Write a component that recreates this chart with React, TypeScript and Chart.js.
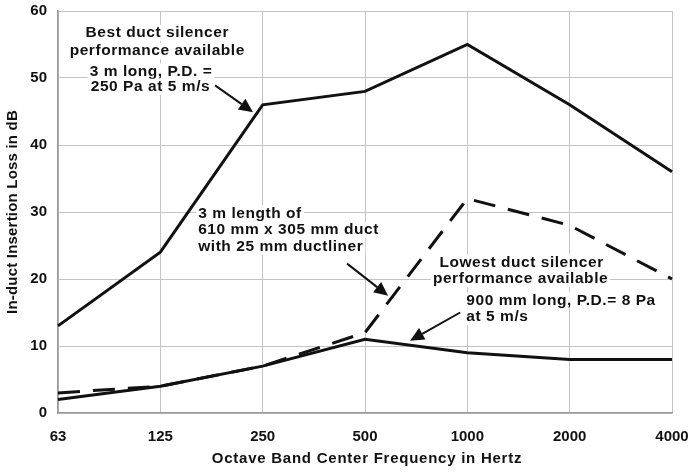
import React, { useEffect, useRef } from "react";
import { Chart, registerables } from "chart.js";

Chart.register(...registerables);

const categories = ["63", "125", "250", "500", "1000", "2000", "4000"];
const bestSilencer = [13, 24, 46, 48, 55, 46, 36];
const ductLiner = [3, 4, 7, 12, 32, 28, 20];
const lowestSilencer = [2, 4, 7, 11, 9, 8, 8];
const yMin = 0;
const yMax = 60;
const yStep = 10;

const xTitle = "Octave Band Center Frequency in Hertz";
const yTitle = "In-duct Insertion Loss in dB";

// annotation text blocks: anchor in data coords (category index, dB)
const noteBest = ["Best duct silencer", "performance available", "3 m long, P.D. =", "250 Pa at 5 m/s"];
const noteLiner = ["3 m length of", "610 mm x 305 mm duct", "with 25 mm ductliner"];
const noteLowest = ["Lowest duct silencer", "performance available", "900 mm long, P.D.= 8 Pa", "at 5 m/s"];

type Line = { text: string; x: number; y: number; align: CanvasTextAlign };
const textLines: Line[] = [
  { text: noteBest[0], x: 0.97, y: 56.7, align: "center" },
  { text: noteBest[1], x: 0.97, y: 54.0, align: "center" },
  { text: noteBest[2], x: 0.31, y: 51.0, align: "left" },
  { text: noteBest[3], x: 0.32, y: 48.7, align: "left" },
  { text: noteLiner[0], x: 1.37, y: 29.8, align: "left" },
  { text: noteLiner[1], x: 1.37, y: 27.3, align: "left" },
  { text: noteLiner[2], x: 1.37, y: 24.8, align: "left" },
  { text: noteLowest[0], x: 4.53, y: 22.5, align: "center" },
  { text: noteLowest[1], x: 4.52, y: 20.0, align: "center" },
  { text: noteLowest[2], x: 3.99, y: 16.8, align: "left" },
  { text: noteLowest[3], x: 3.99, y: 14.3, align: "left" },
];

const arrows = [
  { x1: 1.535, y1: 48.9, x2: 1.906, y2: 44.9 },
  { x1: 2.825, y1: 22.3, x2: 3.226, y2: 17.5 },
  { x1: 3.93, y1: 15.0, x2: 3.44, y2: 10.8 },
];

const FONT = "'Liberation Sans', Arial, sans-serif";

const annotationPlugin = {
  id: "annotations",
  afterDatasetsDraw(chart: any) {
    const ctx = chart.ctx as CanvasRenderingContext2D;
    const xs = chart.scales.x;
    const ys = chart.scales.y;
    const area = chart.chartArea;
    ctx.save();
    ctx.font = `bold 15.5px ${FONT}`;
    (ctx as any).letterSpacing = "0.55px";
    ctx.textBaseline = "middle";
    for (const l of textLines) {
      const px = xs.getPixelForValue(l.x);
      const py = ys.getPixelForValue(l.y);
      const w = ctx.measureText(l.text).width;
      let left = px;
      if (l.align === "center") left = px - w / 2;
      ctx.fillStyle = "#ffffff";
      ctx.fillRect(left - 2, py - 8, w + 4, 16);
      ctx.fillStyle = "#111111";
      ctx.textAlign = "left";
      ctx.fillText(l.text, left, py);
    }
    ctx.strokeStyle = "#111111";
    ctx.fillStyle = "#111111";
    ctx.lineWidth = 2;
    for (const a of arrows) {
      const x1 = xs.getPixelForValue(a.x1);
      const y1 = ys.getPixelForValue(a.y1);
      const x2 = xs.getPixelForValue(a.x2);
      const y2 = ys.getPixelForValue(a.y2);
      const ang = Math.atan2(y2 - y1, x2 - x1);
      const hl = 14;
      const hw = 6.5;
      const bx = x2 - hl * Math.cos(ang);
      const by = y2 - hl * Math.sin(ang);
      ctx.beginPath();
      ctx.moveTo(x1, y1);
      ctx.lineTo(bx, by);
      ctx.stroke();
      ctx.beginPath();
      ctx.moveTo(x2, y2);
      ctx.lineTo(bx + hw * Math.sin(ang), by - hw * Math.cos(ang));
      ctx.lineTo(bx - hw * Math.sin(ang), by + hw * Math.cos(ang));
      ctx.closePath();
      ctx.fill();
    }
    // axis titles
    ctx.font = `bold 15px ${FONT}`;
    ctx.fillStyle = "#111111";
    ctx.textAlign = "center";
    ctx.textBaseline = "middle";
    (ctx as any).letterSpacing = "0.75px";
    ctx.fillText(xTitle, (area.left + area.right) / 2 + 2, 459);
    (ctx as any).letterSpacing = "0.2px";
    ctx.translate(13, (area.top + area.bottom) / 2);
    ctx.rotate(-Math.PI / 2);
    ctx.fillText(yTitle, 0, 0);
    ctx.restore();
  },
};

export default function App() {
  const ref = useRef<HTMLCanvasElement | null>(null);
  useEffect(() => {
    document.body.style.margin = "0";
    if (!ref.current) return;
    const chart = new Chart(ref.current, {
      type: "line",
      data: {
        labels: categories,
        datasets: [
          {
            label: "Best duct silencer",
            data: bestSilencer,
            borderColor: "#111111",
            borderWidth: 3,
            pointRadius: 0,
            fill: false,
            tension: 0,
          },
          {
            label: "3 m length of 610 mm x 305 mm duct",
            data: ductLiner,
            borderColor: "#111111",
            borderWidth: 3,
            borderDash: [22, 13],
            pointRadius: 0,
            fill: false,
            tension: 0,
          },
          {
            label: "Lowest duct silencer",
            data: lowestSilencer,
            borderColor: "#111111",
            borderWidth: 3,
            pointRadius: 0,
            fill: false,
            tension: 0,
          },
        ],
      },
      options: {
        animation: false,
        responsive: true,
        maintainAspectRatio: false,
        layout: { autoPadding: false, padding: { top: 11, right: 21, left: 0, bottom: 0 } },
        plugins: { legend: { display: false }, tooltip: { enabled: false } },
        scales: {
          x: {
            type: "category",
            offset: false,
            grid: { color: "#c4c4c4", lineWidth: 1, drawTicks: false },
            border: { color: "#999999", width: 1.5 },
            ticks: {
              color: "#111111",
              font: { family: FONT, size: 15, weight: "bold" },
              padding: 15,
              maxRotation: 0,
            },
            afterFit(scale: any) {
              scale.height = 61;
              scale.paddingLeft = 0;
              scale.paddingRight = 0;
            },
          },
          y: {
            min: yMin,
            max: yMax,
            grid: { color: "#c4c4c4", lineWidth: 1, drawTicks: false },
            border: { color: "#999999", width: 1.5 },
            ticks: {
              stepSize: yStep,
              color: "#111111",
              font: { family: FONT, size: 15, weight: "bold" },
              padding: 11,
            },
            afterFit(scale: any) {
              scale.width = 58;
              scale.paddingTop = 0;
              scale.paddingBottom = 0;
            },
          },
        },
      },
      plugins: [annotationPlugin],
    } as any);
    return () => chart.destroy();
  }, []);
  return (
    <div style={{ position: "absolute", left: 0, top: 0, width: 693, height: 474 }}>
      <canvas ref={ref} />
    </div>
  );
}
